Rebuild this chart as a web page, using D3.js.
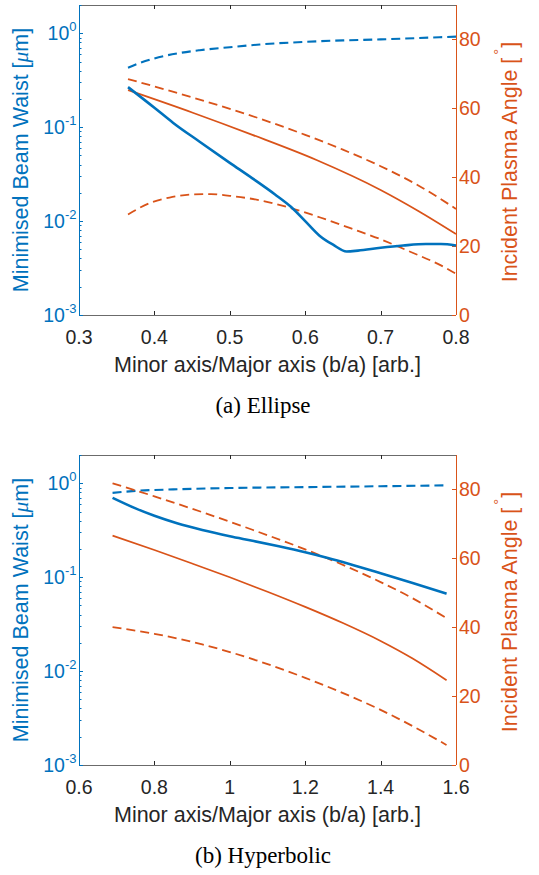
<!DOCTYPE html>
<html>
<head>
<meta charset="utf-8">
<script src="https://cdn.jsdelivr.net/npm/d3@7"></script>
<style>
  html, body { margin: 0; padding: 0; background: #fff; }
  svg { display: block; }
</style>
</head>
<body>
<svg id="chart" width="539" height="875"></svg>
<script>
// ---------------- DATA ----------------
// (a) Ellipse
const ellX_waistSolid = [0.365, 0.40, 0.425, 0.46, 0.50, 0.53, 0.56, 0.581, 0.60, 0.619, 0.637, 0.655, 0.67, 0.70, 0.73, 0.76, 0.78, 0.80];
const ellY_waistSolid = [0.267, 0.161, 0.111, 0.070, 0.0417, 0.0285, 0.0192, 0.0142, 0.0100, 0.0070, 0.0056, 0.00475, 0.00485, 0.0052, 0.0055, 0.0057, 0.0057, 0.0055];
const ellX_waistDash = [0.365, 0.38, 0.40, 0.43, 0.46, 0.50, 0.54, 0.60, 0.65, 0.70, 0.75, 0.80];
const ellY_waistDash = [0.43, 0.48, 0.54, 0.61, 0.66, 0.71, 0.76, 0.81, 0.84, 0.86, 0.89, 0.92];
const ellX_angleSolid = [0.365, 0.45, 0.53, 0.615, 0.70, 0.75, 0.80];
const ellY_angleSolid = [65.3, 58.8, 52.3, 45.0, 36.3, 30.2, 23.5];
const ellX_angleDashHi = [0.365, 0.45, 0.54, 0.60, 0.65, 0.70, 0.75, 0.80];
const ellY_angleDashHi = [68.5, 63.2, 57.0, 52.3, 48.0, 43.2, 37.6, 30.8];
const ellX_angleDashLo = [0.365, 0.395, 0.42, 0.45, 0.475, 0.50, 0.54, 0.58, 0.62, 0.66, 0.70, 0.74, 0.78, 0.80];
const ellY_angleDashLo = [29.2, 32.6, 34.1, 35.0, 35.1, 34.6, 33.3, 31.1, 28.3, 25.2, 22.0, 18.3, 14.4, 12.0];

// (b) Hyperbolic
const hypX_waistSolid = [0.689, 0.75, 0.80, 0.86, 0.927, 1.0, 1.06, 1.13, 1.2, 1.26, 1.315, 1.4, 1.485, 1.575];
const hypY_waistSolid = [0.70, 0.54, 0.45, 0.375, 0.318, 0.273, 0.244, 0.213, 0.184, 0.160, 0.139, 0.110, 0.0865, 0.0666];
const hypX_waistDash = [0.689, 0.75, 0.85, 1.0, 1.2, 1.4, 1.575];
const hypY_waistDash = [0.79, 0.83, 0.86, 0.89, 0.91, 0.93, 0.95];
const hypX_angleSolid = [0.689, 0.8, 0.9, 1.0, 1.1, 1.2, 1.3, 1.4, 1.485, 1.575];
const hypY_angleSolid = [66.6, 62.4, 58.5, 54.5, 50.3, 45.9, 41.2, 36.0, 30.9, 24.6];
const hypX_angleDashHi = [0.689, 0.8, 0.927, 1.06, 1.2, 1.315, 1.4, 1.485, 1.575];
const hypY_angleDashHi = [81.8, 78.0, 73.4, 68.3, 62.6, 57.4, 53.1, 48.4, 42.6];
const hypX_angleDashLo = [0.689, 0.8, 0.927, 1.0, 1.07, 1.2, 1.315, 1.4, 1.485, 1.575];
const hypY_angleDashLo = [40.0, 38.1, 35.0, 32.8, 30.4, 25.3, 20.2, 16.0, 11.3, 5.8];

// Axis ticks
const ellXTicks = [0.3, 0.4, 0.5, 0.6, 0.7, 0.8];
const hypXTicks = [0.6, 0.8, 1.0, 1.2, 1.4, 1.6];
const waistTicks = [1e-3, 1e-2, 1e-1, 1e0];
const waistExponents = ["-3", "-2", "-1", "0"];
const angleTicks = [0, 20, 40, 60, 80];

const xLabel = "Minor axis/Major axis (b/a) [arb.]";
const leftLabel = "Minimised Beam Waist [";
const rightLabel = "Incident Plasma Angle [";
const captions = ["(a) Ellipse", "(b) Hyperbolic"];

// ---------------- STYLE ----------------
const BLUE = "#0072BD", ORANGE = "#D95319", GRAY = "#262626";
const SANS = "'Liberation Sans', Arial, Helvetica, sans-serif";
const SERIF = "'Liberation Serif', 'Times New Roman', serif";

const svg = d3.select("#chart");

function zip(xs, ys) { return xs.map((x, i) => [x, ys[i]]); }

function panel(cfg) {
  const L = 79, R = 456, T = cfg.top, B = cfg.top + 310;
  const x = d3.scaleLinear().domain(cfg.xDomain).range([L, R]);
  const yL = d3.scaleLog().domain([1e-3, 2]).range([B, T]);
  const yR = d3.scaleLinear().domain([0, 90]).range([B, T]);
  const g = svg.append("g");

  // box top & bottom
  g.append("line").attr("x1", L).attr("x2", R).attr("y1", T + 0.5).attr("y2", T + 0.5)
    .attr("stroke", "#6b6b6b").attr("stroke-width", 1);
  g.append("line").attr("x1", L).attr("x2", R).attr("y1", B + 0.5).attr("y2", B + 0.5)
    .attr("stroke", "#6b6b6b").attr("stroke-width", 1);

  // x ticks (inward, bottom & top)
  cfg.xTicks.forEach(t => {
    const px = Math.round(x(t)) + 0.5;
    g.append("line").attr("x1", px).attr("x2", px).attr("y1", B).attr("y2", B - 4)
      .attr("stroke", GRAY).attr("stroke-width", 1);
    g.append("line").attr("x1", px).attr("x2", px).attr("y1", T).attr("y2", T + 4)
      .attr("stroke", GRAY).attr("stroke-width", 1);
    g.append("text").attr("x", x(t)).attr("y", B + 28.5)
      .attr("text-anchor", "middle").attr("font-family", SANS).attr("font-size", 19.5)
      .attr("fill", GRAY).text(d3.format("~g")(t));
  });
  g.append("text").attr("x", (L + R) / 2).attr("y", B + 57)
    .attr("text-anchor", "middle").attr("font-family", SANS).attr("font-size", 21.5)
    .attr("fill", GRAY).text(xLabel);

  // left axis
  g.append("line").attr("x1", L + 0.5).attr("x2", L + 0.5).attr("y1", T).attr("y2", B)
    .attr("stroke", BLUE).attr("stroke-width", 1);
  // minor log ticks
  for (let e = -3; e <= 0; e++) {
    for (let m = 1; m <= 9; m++) {
      const v = m * Math.pow(10, e);
      if (v > 2 || v < 1e-3) continue;
      const py = Math.round(yL(v)) + 0.5;
      g.append("line").attr("x1", L).attr("x2", L + (m === 1 ? 4 : 2.5)).attr("y1", py).attr("y2", py)
        .attr("stroke", BLUE).attr("stroke-width", 1);
    }
  }
  waistTicks.forEach((t, i) => {
    const tx = g.append("text").attr("x", 76.5).attr("y", yL(t) + 7)
      .attr("text-anchor", "end").attr("font-family", SANS).attr("font-size", 19.5)
      .attr("fill", BLUE);
    tx.append("tspan").text("10");
    tx.append("tspan").attr("dy", -9).attr("font-size", 13).text(waistExponents[i]);
  });
  const lt = g.append("text").attr("transform", `translate(28,${(T + B) / 2}) rotate(-90)`)
    .attr("text-anchor", "middle").attr("font-family", SANS).attr("font-size", 21.5)
    .attr("fill", BLUE);
  lt.append("tspan").text(leftLabel);
  lt.append("tspan").attr("font-family", "'Liberation Serif', serif").attr("font-style", "italic").text("\u03BC");
  lt.append("tspan").text("m]");

  // right axis
  g.append("line").attr("x1", R + 0.5).attr("x2", R + 0.5).attr("y1", T).attr("y2", B)
    .attr("stroke", ORANGE).attr("stroke-width", 1);
  angleTicks.forEach(t => {
    const py = Math.round(yR(t)) + 0.5;
    g.append("line").attr("x1", R).attr("x2", R - 4).attr("y1", py).attr("y2", py)
      .attr("stroke", ORANGE).attr("stroke-width", 1);
    g.append("text").attr("x", 459).attr("y", yR(t) + 7)
      .attr("font-family", SANS).attr("font-size", 19.5).attr("fill", ORANGE).text(t);
  });
  const rt = g.append("text").attr("transform", `translate(517,${(T + B) / 2 + 2}) rotate(-90)`)
    .attr("text-anchor", "middle").attr("font-family", SANS).attr("font-size", 21.5)
    .attr("fill", ORANGE);
  rt.append("tspan").text(rightLabel);
  rt.append("tspan").attr("dx", 3).attr("dy", -13).attr("font-size", 15).text("\u00B0");
  rt.append("tspan").attr("dx", 1).attr("dy", 13).text("]");

  // series
  const lineL = d3.line().x(d => x(d[0])).y(d => yL(d[1])).curve(d3.curveMonotoneX);
  const lineR = d3.line().x(d => x(d[0])).y(d => yR(d[1])).curve(d3.curveMonotoneX);
  const series = [
    { d: zip(cfg.wdX, cfg.wdY), f: lineL, c: BLUE, w: 2.1, dash: "9,5" },
    { d: zip(cfg.ahX, cfg.ahY), f: lineR, c: ORANGE, w: 1.8, dash: "9,5" },
    { d: zip(cfg.alX, cfg.alY), f: lineR, c: ORANGE, w: 1.8, dash: "9,5" },
    { d: zip(cfg.asX, cfg.asY), f: lineR, c: ORANGE, w: 1.7, dash: null },
    { d: zip(cfg.wsX, cfg.wsY), f: lineL, c: BLUE, w: 2.6, dash: null },
  ];
  series.forEach(s => {
    g.append("path").attr("d", s.f(s.d)).attr("fill", "none")
      .attr("stroke", s.c).attr("stroke-width", s.w)
      .attr("stroke-dasharray", s.dash).attr("stroke-linejoin", "round");
  });

  // caption
  svg.append("text").attr("x", 263).attr("y", cfg.captionY)
    .attr("text-anchor", "middle").attr("font-family", SERIF).attr("font-size", 23)
    .attr("fill", "#000").text(cfg.caption);
}

panel({
  top: 5, xDomain: [0.3, 0.8], xTicks: ellXTicks, caption: captions[0], captionY: 413,
  wsX: ellX_waistSolid, wsY: ellY_waistSolid, wdX: ellX_waistDash, wdY: ellY_waistDash,
  asX: ellX_angleSolid, asY: ellY_angleSolid, ahX: ellX_angleDashHi, ahY: ellY_angleDashHi,
  alX: ellX_angleDashLo, alY: ellY_angleDashLo
});
panel({
  top: 455, xDomain: [0.6, 1.6], xTicks: hypXTicks, caption: captions[1], captionY: 863,
  wsX: hypX_waistSolid, wsY: hypY_waistSolid, wdX: hypX_waistDash, wdY: hypY_waistDash,
  asX: hypX_angleSolid, asY: hypY_angleSolid, ahX: hypX_angleDashHi, ahY: hypY_angleDashHi,
  alX: hypX_angleDashLo, alY: hypY_angleDashLo
});
</script>
</body>
</html>
